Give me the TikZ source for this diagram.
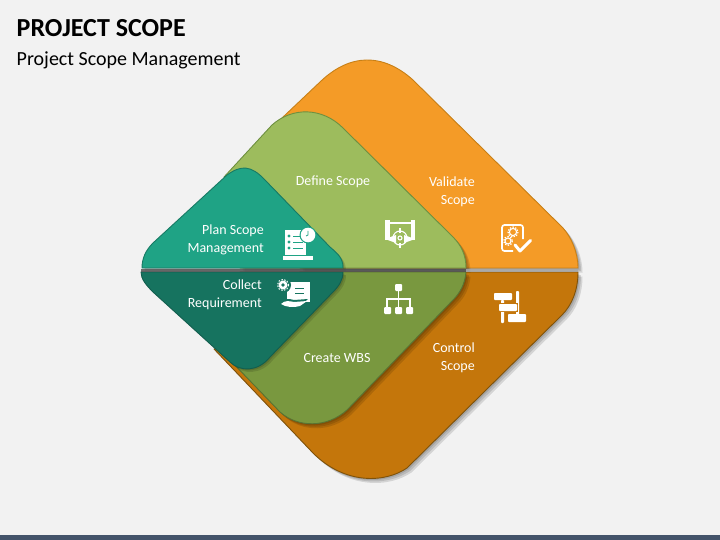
\documentclass[tikz,border=0pt]{standalone}
\usepackage{fontspec}
\setmainfont{Carlito}
\usepackage{tikz}

\definecolor{pagebg}{HTML}{F2F2F2}
\definecolor{barblue}{HTML}{44546A}
\definecolor{orangeup}{HTML}{F49B27}
\definecolor{orangedown}{HTML}{C4760B}
\definecolor{orangeline}{HTML}{B5750F}
\definecolor{greenup}{HTML}{9DBC5D}
\definecolor{greendown}{HTML}{79983F}
\definecolor{greenline}{HTML}{6E9040}
\definecolor{tealup}{HTML}{1FA385}
\definecolor{tealdown}{HTML}{16735F}
\definecolor{tealline}{HTML}{125E4E}

\tikzset{
  halfshape/.style={line width=0.9pt, line join=round},
  castshadow/.style={fill=black, fill opacity=0.12, draw=none},
  label/.style={text=white, font=\fontsize{14}{17.5}\selectfont, align=right, inner sep=0pt},
  iconfill/.style={fill=white, draw=none},
  iconline/.style={draw=white, line width=1.1pt, fill=none},
}

% the six halves, in pixels from the top left corner
\def\orangetop{(578,268) .. controls (578,252) and (571,237) .. (563,228) -- (413,80) .. controls (383,53) and (350,53) .. (320,82) -- (282,118) -- (300,160) -- (300,268) -- cycle}
\def\orangebot{(578,272) .. controls (578,290) and (572,305) .. (562,315) -- (407,468) .. controls (385,483) and (345,485) .. (313,453) -- (214,349) -- (240,345) -- (300,272) -- cycle}
\def\greentop{(466,268) .. controls (466,255) and (461,245) .. (453,237) -- (343,128) .. controls (322,107) and (292,107) .. (272,125) -- (224,177) -- (240,200) -- (240,268) -- cycle}
\def\greenbot{(466,272) .. controls (465,284) and (460,293) .. (453,300) -- (347,410) .. controls (327,428) and (298,428) .. (280,412) -- (228,358) -- (240,345) -- (240,272) -- cycle}
\def\tealtop{(343,268) .. controls (343,258) and (338,254) .. (330,247) -- (265,180) .. controls (251,165) and (241,165) .. (227,175) -- (153,243) .. controls (146,250) and (142,258) .. (142,268) -- cycle}
\def\tealbot{(343,272) .. controls (343,280) and (339,286) .. (333,292) -- (270,357) .. controls (258,372) and (240,372) .. (230,362) -- (153,292) .. controls (146,285) and (141,279) .. (141,272) -- cycle}

\begin{document}
\begin{tikzpicture}[x=1pt,y=-1pt]
  \useasboundingbox (0,0) rectangle (720,540);
  \fill[pagebg] (0,0) rectangle (720,540);
  \fill[barblue] (0,535) rectangle (720,540);

  % orange
  \foreach \d in {1.5,3,4.5} {
    \fill[castshadow, shift={(\d,\d)}] \orangetop;
    \fill[castshadow, shift={(\d,\d)}] \orangebot;
  }
  \draw[halfshape, fill=orangeup, draw=orangeline!70!orangeup] \orangetop;
  \draw[halfshape, fill=orangedown, draw=orangeline!70!black] \orangebot;

  % green
  \foreach \d in {1.5,3,4.5} {
    \fill[castshadow, shift={(\d,\d)}] \greentop;
    \fill[castshadow, shift={(\d,\d)}] \greenbot;
  }
  \draw[halfshape, fill=greenup, draw=greenline] \greentop;
  \draw[halfshape, fill=greendown, draw=greenline!80!black] \greenbot;

  % teal
  \foreach \d in {1.5,3} {
    \fill[castshadow, shift={(\d,\d)}] \tealtop;
    \fill[castshadow, shift={(\d,\d)}] \tealbot;
  }
  \draw[halfshape, fill=tealup, draw=tealup!75!black] \tealtop;
  \draw[halfshape, fill=tealdown, draw=tealline] \tealbot;

  % seam
  \fill[black!70, opacity=0.8] (141,268.5) rectangle (466,271.5);
  \fill[black!35, opacity=0.8] (466,268.5) rectangle (578,271.5);

  % titles
  \node[anchor=base west, inner sep=0pt, font=\fontsize{26}{30}\selectfont\bfseries] (title) at (16.5,37) {PROJECT SCOPE};
  \node[anchor=base west, inner sep=0pt, font=\fontsize{20}{24}\selectfont] (subtitle) at (16.5,66) {Project Scope Management};

  % labels
  \node[label, anchor=east] (plan) at (264,240) {Plan Scope\\Management};
  \node[label, anchor=east] (collect) at (262,295) {Collect\\Requirement};
  \node[label, anchor=center] (define) at (333,182) {Define Scope};
  \node[label, anchor=center] (wbs) at (337,358) {Create WBS};
  \node[label, anchor=east] (validate) at (475,192) {Validate\\Scope};
  \node[label, anchor=east] (control) at (475,358) {Control\\Scope};

  % plan icon: sheet and clock
  \begin{scope}[shift={(283,227)}]
    \fill[iconfill] (2,3) rectangle (23,28);
    \fill[iconfill] (0,28.5) rectangle (30,33);
    \foreach \y in {9,15,21} {
      \fill[tealup] (6,\y) circle (1.6);
      \draw[tealup, line width=0.8pt] (10,\y) -- (20,\y);
    }
    \fill[tealup] (25,8) circle (8.5);
    \fill[iconfill] (25,8) circle (7.3);
    \draw[tealup, line width=0.8pt] (25,4) -- (25,8) -- (23,9);
  \end{scope}

  % collect icon: gear, card and hand
  \begin{scope}[shift={(277,280)}]
    \fill[iconfill] (10,2) rectangle (33,22);
    \fill[tealdown] (6,5) circle (8);
    \fill[iconfill] (6,5) circle (4.5);
    \fill[tealdown] (6,5) circle (1.8);
    \draw[white, line width=1pt, dash pattern=on 1.5pt off 1.5pt] (6,5) circle (5.6);
    \draw[tealdown, line width=0.9pt] (18,8) -- (27,8) (18,13) -- (27,13);
    \fill[tealdown] (3,24) .. controls (8,17) and (12,19) .. (17,20) -- (31,19) -- (24,25) -- cycle;
    \fill[iconfill] (4,24) .. controls (8,20) and (12,21) .. (17,22) -- (30,21) -- (23,26) .. controls (17,28) and (8,27) .. cycle;
  \end{scope}

  % define icon: blueprint and target
  \begin{scope}[shift={(385,219)}]
    \fill[iconfill] (0,1) rectangle (4.5,21);
    \fill[iconfill] (25.5,1) rectangle (30,21);
    \draw[iconline] (4,4) -- (26,4);
    \fill[iconfill] (0,20) -- (11,16) -- (11,24) -- cycle;
    \fill[iconfill] (30,20) -- (19,16) -- (19,24) -- cycle;
    \draw[iconline] (15,19) circle (7);
    \draw[iconline] (15,19) circle (2);
    \draw[iconline] (15,9) -- (15,14) (15,24) -- (15,29) (6,19) -- (10,19) (20,19) -- (24,19);
  \end{scope}

  % wbs icon: tree
  \begin{scope}[shift={(384,284)}]
    \fill[iconfill, rounded corners=1pt] (11,0) rectangle (18,7);
    \draw[iconline] (14.5,7) -- (14.5,23) (3,23) -- (3,15) -- (26,15) -- (26,23);
    \foreach \x in {0,11,22} {
      \fill[iconfill, rounded corners=1pt] (\x,23) rectangle ++(7,7);
    }
  \end{scope}

  % validate icon: page, gears and tick
  \begin{scope}[shift={(500,224)}]
    \draw[draw=white, line width=1.7pt, rounded corners=2.5pt] (13,27) -- (2,27) -- (2,1) -- (23,1) -- (23,15);
    \foreach \a/\b/\r in {13/8/3.6,8/17/3} {
      \draw[white, line width=1.1pt] (\a,\b) circle (\r);
      \draw[white, line width=1.2pt, dash pattern=on 1.4pt off 1.4pt] (\a,\b) circle (\r+1.4);
    }
    \draw[white, line width=3pt, line cap=round, line join=round] (15,21) -- (20,27) -- (30.5,16.5);
  \end{scope}

  % control icon: gantt bars
  \begin{scope}[shift={(494,291)}]
    \fill[iconfill, rounded corners=0.8pt] (22,0) rectangle (25,24);
    \fill[iconfill, rounded corners=0.8pt] (7,9) rectangle (10,32);
    \fill[iconfill, rounded corners=0.8pt] (0,2) rectangle (18,9);
    \fill[orangedown] (4,12) rectangle (24,21);
    \fill[iconfill, rounded corners=0.8pt] (5,13) rectangle (23,20);
    \fill[iconfill, rounded corners=0.8pt] (14,23) rectangle (32,31);
  \end{scope}
\end{tikzpicture}
\end{document}
